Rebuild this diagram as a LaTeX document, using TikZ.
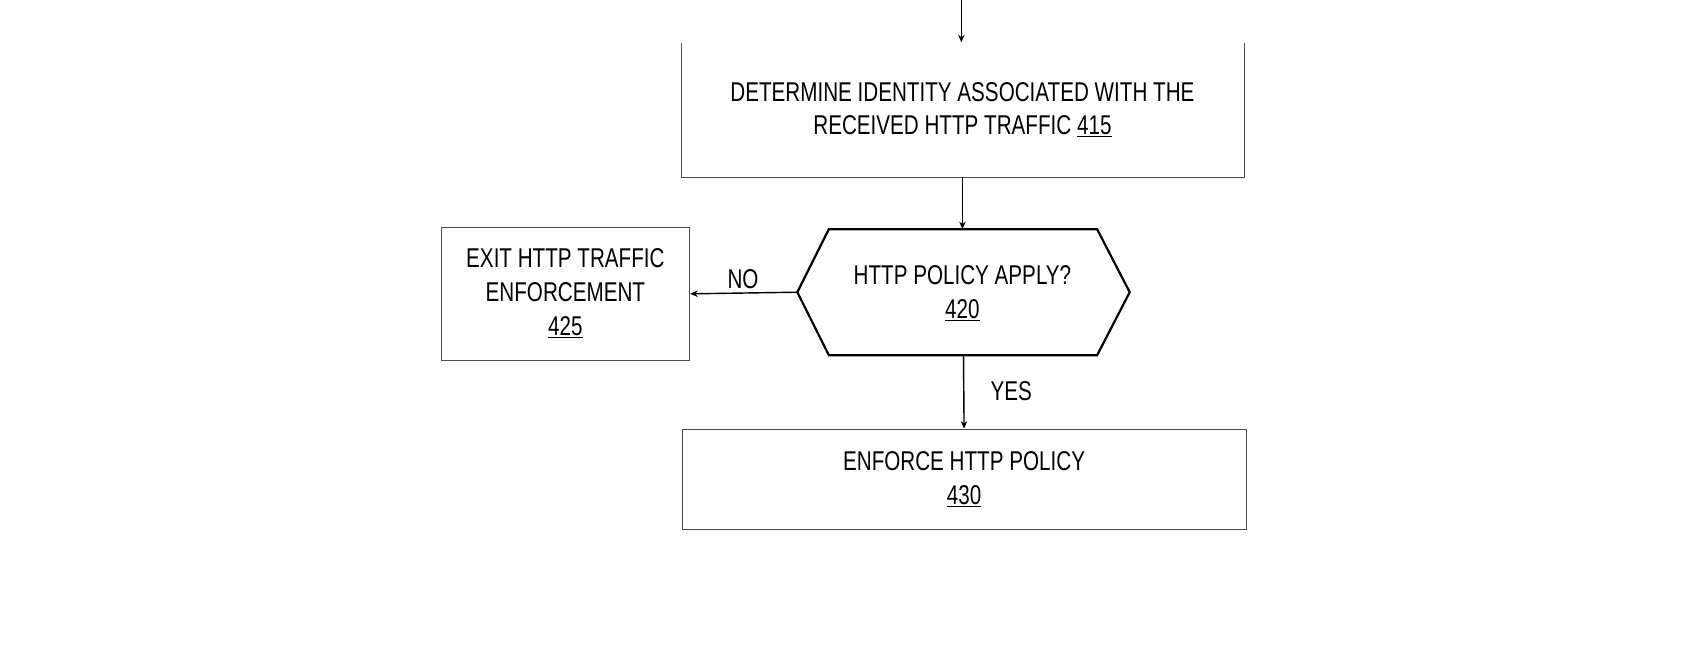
\documentclass[tikz,border=0pt]{standalone}
\usepackage{fontspec}
\setmainfont[FakeStretch=0.76]{Liberation Sans}
\usetikzlibrary{arrows.meta}
\begin{document}
\begin{tikzpicture}[x=1pt,y=-1pt,
  lab/.style={font=\fontsize{25}{31}\selectfont,align=center,inner sep=0},
  box/.style={draw=black!70,line width=0.8pt},
  arr/.style={-{Stealth[length=7pt,width=6pt]},line width=1.3pt},
  thin arr/.style={-{Stealth[length=7pt,width=6pt]},line width=1pt}]
\useasboundingbox (0,0) rectangle (1565,598);
% box 415 (open top)
\draw[box] (627,40) -- (627,163) -- (1146,163) -- (1146,40);
\node[lab] (t415) at (886,101) {DETERMINE IDENTITY ASSOCIATED WITH THE\\RECEIVED HTTP TRAFFIC \underline{415}};
\coordinate (b415) at (886,163);
\coordinate (top) at (885,0);
\coordinate (top415) at (885,39);
\draw[thin arr] (top) -- (top415);
% hexagon
\draw[line width=2pt] (734,269) -- (763,211) -- (1010,211) -- (1040,269) -- (1010,327) -- (763,327) -- cycle;
\coordinate (hexT) at (886,211);
\coordinate (hexL) at (734,269);
\coordinate (hexB) at (887,327);
\node[lab] (t420) at (886,270) {HTTP POLICY APPLY?\\\underline{420}};
\draw[thin arr] (b415) -- (hexT);
% box 425
\node[box,minimum width=229pt,minimum height=123pt,inner sep=0] (b425) at (520.5,270.5) {};
\node[lab] (t425) at (520.5,270) {EXIT HTTP TRAFFIC\\ENFORCEMENT\\\underline{425}};
\draw[arr] (hexL) -- (b425.east);
\node[lab] (no) at (684,257) {NO};
% box 430
\node[box,minimum width=519pt,minimum height=92pt,inner sep=0] (b430) at (887.5,441) {};
\node[lab] (t430) at (887.5,441) {ENFORCE HTTP POLICY\\\underline{430}};
\draw[arr] (hexB) -- (b430.north);
\node[lab] (yes) at (931,360) {YES};
\end{tikzpicture}
\end{document}
